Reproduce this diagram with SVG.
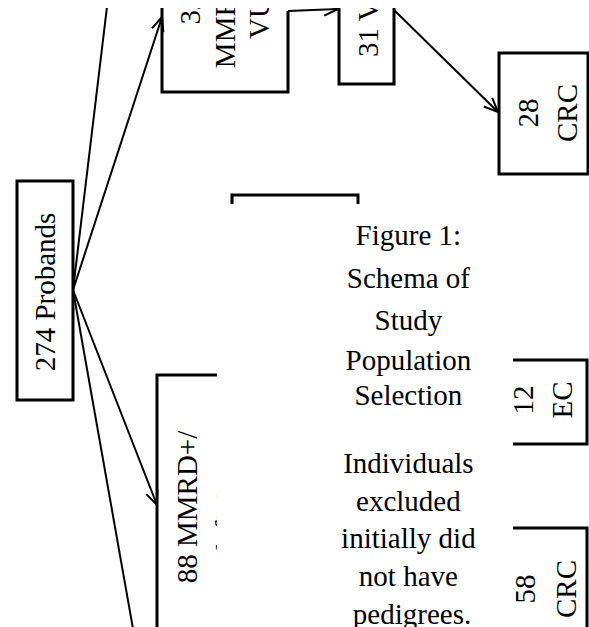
<svg xmlns="http://www.w3.org/2000/svg" width="589" height="627" viewBox="0 0 589 627">
<style>
.box{fill:none;stroke:#000;stroke-width:3}
.t{font-family:"Liberation Serif","Times New Roman",serif;font-size:29px;fill:#000}
.c{stroke:#000;stroke-width:2;fill:none}
.mask{fill:#fff;stroke:none}
</style>
<defs>
<marker id="ah" viewBox="-16 -9 18 18" refX="0" refY="0" markerWidth="18" markerHeight="18" markerUnits="userSpaceOnUse" orient="auto">
<path d="M-14,-6 L0,0 L-14,6" fill="none" stroke="#000" stroke-width="2"/>
</marker>
</defs>
<rect width="589" height="627" fill="#fff"/>
<g id="n-probands">
<rect class="box" x="17" y="181" width="56" height="219"/>
<text class="t" transform="translate(0,292) rotate(-90)" text-anchor="middle"><tspan x="0" y="55">274 Probands</tspan></text>
</g>
<g id="n-mmrd-vus">
<path class="box" d="M162,-5 V92 H288 V11"/>
<text class="t" transform="translate(0,10) rotate(-90)" text-anchor="middle"><tspan x="0" y="200">32</tspan><tspan x="0" y="235">MMRD+/</tspan><tspan x="0" y="269">VUS</tspan></text>
</g>
<g id="n-vus">
<rect class="box" x="339" y="-10" width="55" height="94"/>
<text class="t" transform="translate(0,10) rotate(-90)" text-anchor="middle"><tspan x="0" y="378">31 VUS</tspan></text>
</g>
<g id="n-crc28">
<rect class="box" x="499" y="53" width="89" height="121"/>
<text class="t" transform="translate(0,113) rotate(-90)" text-anchor="middle"><tspan x="0" y="538">28</tspan><tspan x="0" y="577">CRC</tspan></text>
</g>
<g id="n-hidden">
<rect class="box" x="232" y="195" width="126" height="60"/>
</g>
<g id="n-mmrd88">
<rect class="box" x="157" y="375" width="120" height="300"/>
<text class="t" transform="translate(0,507) rotate(-90)" text-anchor="middle"><tspan x="0" y="197">88 MMRD+/</tspan><tspan x="0" y="236">deficient</tspan></text>
</g>
<g id="n-ec12">
<rect class="box" x="480" y="360" width="107" height="84"/>
<text class="t" transform="translate(0,400) rotate(-90)" text-anchor="middle"><tspan x="0" y="533">12</tspan><tspan x="0" y="572">EC</tspan></text>
</g>
<g id="n-crc58">
<rect class="box" x="480" y="528" width="107" height="130"/>
<text class="t" transform="translate(0,589) rotate(-90)" text-anchor="middle"><tspan x="0" y="535">58</tspan><tspan x="0" y="576">CRC</tspan></text>
</g>
<g id="connectors">
<line class="c" x1="73" y1="290" x2="109" y2="-10"/>
<line class="c" x1="73" y1="290" x2="162" y2="17" marker-end="url(#ah)"/>
<line class="c" x1="73" y1="290" x2="157" y2="505" marker-end="url(#ah)"/>
<line class="c" x1="73" y1="290" x2="135" y2="640"/>
<line class="c" x1="288" y1="11" x2="338" y2="9" marker-end="url(#ah)"/>
<line class="c" x1="394" y1="10" x2="498" y2="112" marker-end="url(#ah)"/>
</g>
<g id="caption">
<rect class="mask" x="217" y="204" width="296" height="430"/>
<text class="t" text-anchor="middle">
<tspan x="412" y="245">Figure 1:</tspan>
<tspan x="412" y="288">Schema of</tspan>
<tspan x="412" y="330">Study</tspan>
<tspan x="412" y="370">Population</tspan>
<tspan x="412" y="405">Selection</tspan>
<tspan x="412" y="473">Individuals</tspan>
<tspan x="412" y="511">excluded</tspan>
<tspan x="412" y="548">initially did</tspan>
<tspan x="412" y="586">not have</tspan>
<tspan x="412" y="624">pedigrees.</tspan>
</text>
</g>
<rect class="mask" x="0" y="0" width="589" height="8"/>
</svg>
